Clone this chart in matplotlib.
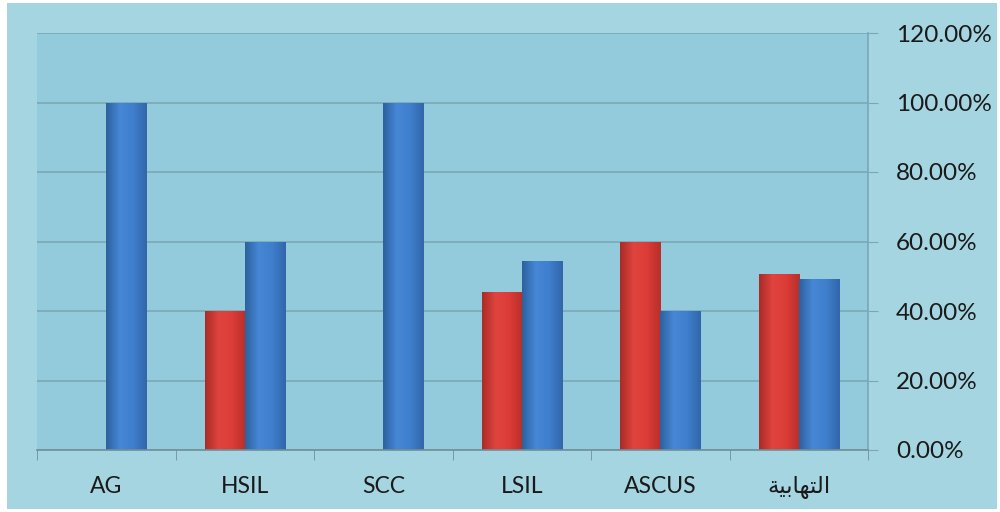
import matplotlib
matplotlib.use("Agg")
import matplotlib.pyplot as plt
from matplotlib.patches import Rectangle
from matplotlib.colors import LinearSegmentedColormap
import numpy as np

# categories, left to right
categories = ["AG", "HSIL", "SCC", "LSIL", "ASCUS",
              # "التهابية" written in shaped presentation forms (visual order)
              "\uFE94\uFEF4\uFE91\uFE8E\uFEEC\uFE98\uFEDF\uFE8D"]
red_vals = [0.0, 40.0, 0.0, 45.5, 60.0, 50.7]
blue_vals = [100.0, 60.0, 100.0, 54.5, 40.0, 49.3]
y_ticks = [0, 20, 40, 60, 80, 100, 120]

plt.rcParams['font.family'] = ['Lato', 'DejaVu Sans']

fig = plt.figure(figsize=(10, 5.12), dpi=100, facecolor="white")
# outer chart area
fig.patches.append(Rectangle((0.007, 0.006), 0.990, 0.988, transform=fig.transFigure,
                             facecolor="#a4d5e1", edgecolor="none", zorder=0))

ax = fig.add_axes([0.037, 62 / 512, 0.831, 417 / 512])
ax.set_zorder(2)
ax.set_facecolor("#93cbdc")

x = np.arange(len(categories))
w = 0.29
red_bars = ax.bar(x - w / 2, red_vals, width=w, color="#d93b36", edgecolor="none",
                  zorder=3)
blue_bars = ax.bar(x + w / 2, blue_vals, width=w, color="#3d7ecd", edgecolor="none",
                   zorder=3)

# shaded look: dark edges, lighter middle
red_cmap = LinearSegmentedColormap.from_list("r", ["#aa2b27", "#e0443e", "#dc3c37", "#b82f2b"])
blue_cmap = LinearSegmentedColormap.from_list("b", ["#2d619f", "#4687d6", "#3f7fcd", "#3167a9"])
grad = np.linspace(0, 1, 64).reshape(1, -1)
for bars, cmap in [(red_bars, red_cmap), (blue_bars, blue_cmap)]:
    for b in bars:
        h = b.get_height()
        if h <= 0:
            continue
        x0 = b.get_x()
        im = ax.imshow(grad, cmap=cmap, aspect="auto", zorder=4,
                       extent=(x0, x0 + b.get_width(), 0, h), interpolation="bicubic")
        im.set_clip_path(b)

ax.set_xlim(-0.5, len(categories) - 0.5)
ax.set_ylim(0, 120)

ax.yaxis.tick_right()
ax.set_yticks(y_ticks)
ax.set_yticklabels(["%.2f%%" % v for v in y_ticks])
ax.grid(axis="y", color="#7aa7b6", linewidth=1.2, zorder=1)

ax.set_xticks(x)
ax.set_xticklabels(categories)
ax.set_xticks(np.arange(len(categories) + 1) - 0.5, minor=True)
ax.tick_params(axis="x", which="major", length=0, pad=19, labelsize=16.5,
               labelcolor="#1a1a1a")
ax.tick_params(axis="x", which="minor", length=7, color="#6f8f9a", direction="out")
ax.tick_params(axis="y", length=7, color="#7aa7b6", pad=13, labelsize=17.5,
               labelcolor="#1a1a1a")

for s in ["top", "left"]:
    ax.spines[s].set_visible(False)
ax.spines["right"].set_color("#7aa7b6")
ax.spines["right"].set_linewidth(1.2)
ax.spines["bottom"].set_color("#6f8f9a")
ax.spines["bottom"].set_linewidth(1.2)
ax.spines["bottom"].set_zorder(5)

fig.savefig("out.png", dpi=100, facecolor=fig.get_facecolor())
